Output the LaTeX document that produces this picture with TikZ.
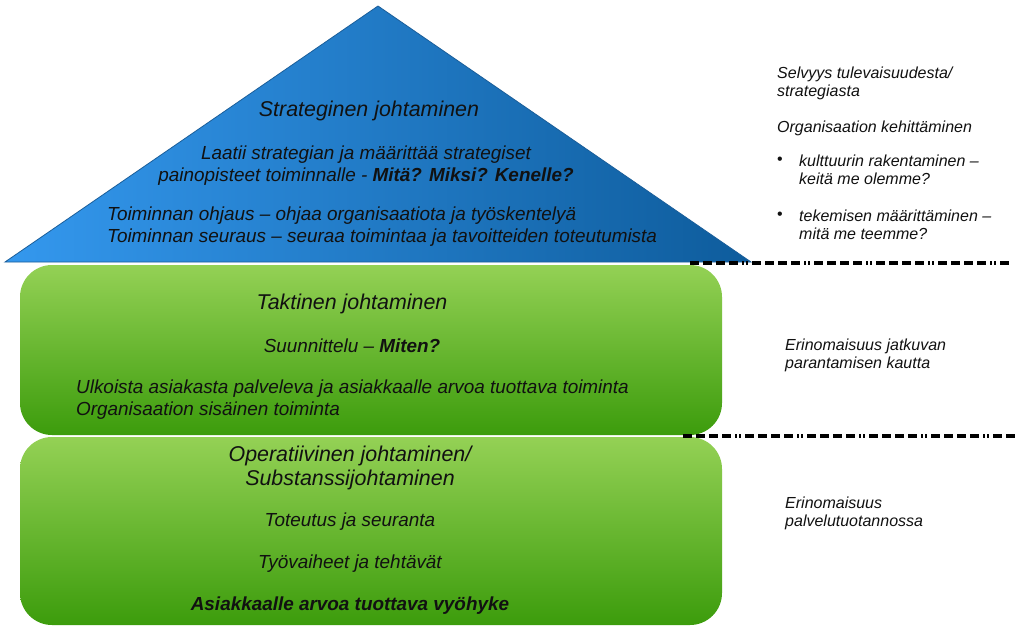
\documentclass[tikz,border=0pt]{standalone}
\usepackage{fontspec}
\setmainfont{Liberation Sans}
\definecolor{triL}{HTML}{3498EE}
\definecolor{triR}{HTML}{0E5C9C}
\definecolor{triE}{HTML}{1A5E9A}
\definecolor{gTop}{HTML}{94D155}
\definecolor{gBot}{HTML}{3C9C0C}
\definecolor{txt}{HTML}{111111}
\tikzset{
  head/.style={font=\fontsize{21.4}{24}\selectfont\itshape, text=txt, inner sep=0pt},
  body/.style={font=\fontsize{18.9}{22}\selectfont\itshape, text=txt, inner sep=0pt},
  side/.style={font=\fontsize{16}{18}\selectfont\itshape, text=txt, inner sep=0pt, align=left, anchor=west},
  sepline/.style={line width=3.5pt, black, dash pattern=on 9pt off 4pt on 9pt off 4pt on 9pt off 4pt on 9pt off 4pt on 2pt off 2pt on 2pt off 4pt},
}
\begin{document}
\begin{tikzpicture}[x=1pt,y=-1pt]
\useasboundingbox[fill=white] (0,0) rectangle (1020,640);
% shapes
\shade[left color=triL, right color=triR, draw=triE, line width=0.8pt] (5,262) -- (378,6) -- (751,262) -- cycle;
\shade[top color=gTop, bottom color=gBot, rounded corners=32pt] (20,265) rectangle (722,435);
\shade[top color=gTop, bottom color=gBot, rounded corners=32pt] (20,437) rectangle (722,625);
% separators
\coordinate (d1a) at (690,263);
\coordinate (d1b) at (1010,263);
\coordinate (d2a) at (683,436);
\coordinate (d2b) at (1018,436);
\draw[sepline] (d1a) -- (d1b);
\draw[sepline] (d2a) -- (d2b);
% triangle texts
\node[head] (strat) at (369,111) {Strateginen johtaminen};
\node[body, align=center] (laatii) at (366,166) {Laatii strategian ja määrittää strategiset\\painopisteet toiminnalle - \textbf{Mitä? Miksi? Kenelle?}};
\node[body, align=left, anchor=west] (ohjaus) at (107,227) {Toiminnan ohjaus – ohjaa organisaatiota ja työskentelyä\\Toiminnan seuraus – seuraa toimintaa ja tavoitteiden toteutumista};
% tactical
\node[head] (takt) at (352,304) {Taktinen johtaminen};
\node[body] (suun) at (352,346) {Suunnittelu – \textbf{Miten?}};
\node[body, align=left, anchor=west] (ulk) at (76,400) {Ulkoista asiakasta palveleva ja asiakkaalle arvoa tuottava toiminta\\Organisaation sisäinen toiminta};
% operative
\node[head, align=center] (oper) at (350,467.5) {Operatiivinen johtaminen/\\Substanssijohtaminen};
\node[body] (tot) at (350,522) {Toteutus ja seuranta};
\node[body] (tyo) at (350,563.5) {Työvaiheet ja tehtävät};
\node[body, font=\fontsize{18.9}{22}\selectfont\itshape\bfseries] (asi) at (350,605.5) {Asiakkaalle arvoa tuottava vyöhyke};
% side texts
\node[side] (selv) at (777,83) {Selvyys tulevaisuudesta/\\strategiasta};
\node[side] (org) at (777,128) {Organisaation kehittäminen};
\node[side] (b1) at (777,161) {\upshape •};
\node[side] (k1) at (799,170) {kulttuurin rakentaminen –\\keitä me olemme?};
\node[side] (b2) at (777,216) {\upshape •};
\node[side] (k2) at (799,225) {tekemisen määrittäminen –\\mitä me teemme?};
\node[side] (eri1) at (785,355) {Erinomaisuus jatkuvan\\parantamisen kautta};
\node[side] (eri2) at (785,513) {Erinomaisuus\\palvelutuotannossa};
\end{tikzpicture}
\end{document}
